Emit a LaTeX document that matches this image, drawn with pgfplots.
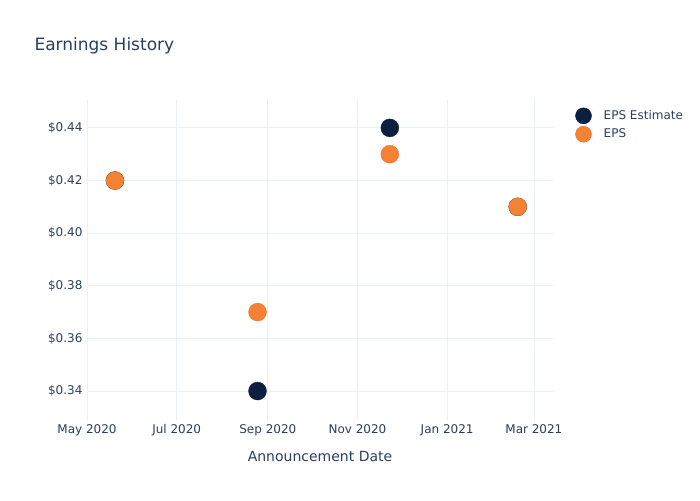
\documentclass[border=0pt]{standalone}
\usepackage{pgfplots}
\pgfplotsset{compat=1.18}
\usepackage{fontspec}
\setmainfont{DejaVu Sans}
\definecolor{txt}{HTML}{2A3F5F}
\definecolor{gridc}{HTML}{EBF0F8}
\definecolor{navy}{HTML}{0C1F40}
\definecolor{orng}{HTML}{F58134}
\begin{document}
\begin{tikzpicture}
\path[use as bounding box,fill=white] (0pt,0pt) rectangle (700pt,500pt);
\coordinate (O) at (87pt,80pt);
\node[anchor=west,text=txt,font=\fontsize{17}{20}\selectfont] at (31pt,454pt) {Earnings History};
\begin{axis}[
  at={(O)}, anchor=south west,
  scale only axis, width=466pt, height=320pt,
  xmin=0, xmax=317, ymin=0.329, ymax=0.4506,
  axis line style={draw=none},
  tick style={draw=none},
  grid=major, major grid style={draw=gridc, line width=0.8pt},
  xtick={0,61,123,184,245,304},
  xticklabels={May 2020,Jul 2020,Sep 2020,Nov 2020,Jan 2021,Mar 2021},
  ytick={0.34,0.36,0.38,0.40,0.42,0.44},
  yticklabels={\$0.34,\$0.36,\$0.38,\$0.40,\$0.42,\$0.44},
  ticklabel style={text=txt,font=\fontsize{12}{14}\selectfont},
  xticklabel style={yshift=-1pt},
  yticklabel style={xshift=-1pt},
  xlabel={Announcement Date},
  xlabel style={text=txt,font=\fontsize{14}{16}\selectfont, yshift=-8pt},
  legend style={at={(1.041,0.983)}, anchor=north west, draw=none, fill=none,
    font=\fontsize{12}{14}\selectfont, text=txt, row sep=2pt,
    legend cell align=left,
    /tikz/every odd column/.append style={column sep=10pt}},
  legend image code/.code={\path[#1] (22pt,0pt) circle (8pt);},
  clip=false,
]
\addplot[only marks, mark=*, mark size=9pt, draw=navy!80!black, fill=navy, mark options={fill=navy, draw=navy!80!black, line width=0.3pt}]
  coordinates {(19,0.42) (116,0.34) (206,0.44) (293,0.41)};
\addlegendentry{EPS Estimate}
\addplot[only marks, mark=*, mark size=9pt, draw=orng!90!black, fill=orng, mark options={fill=orng, draw=orng!90!black, line width=0.3pt}]
  coordinates {(19,0.42) (116,0.37) (206,0.43) (293,0.41)};
\addlegendentry{EPS}
\end{axis}
\end{tikzpicture}
\end{document}
